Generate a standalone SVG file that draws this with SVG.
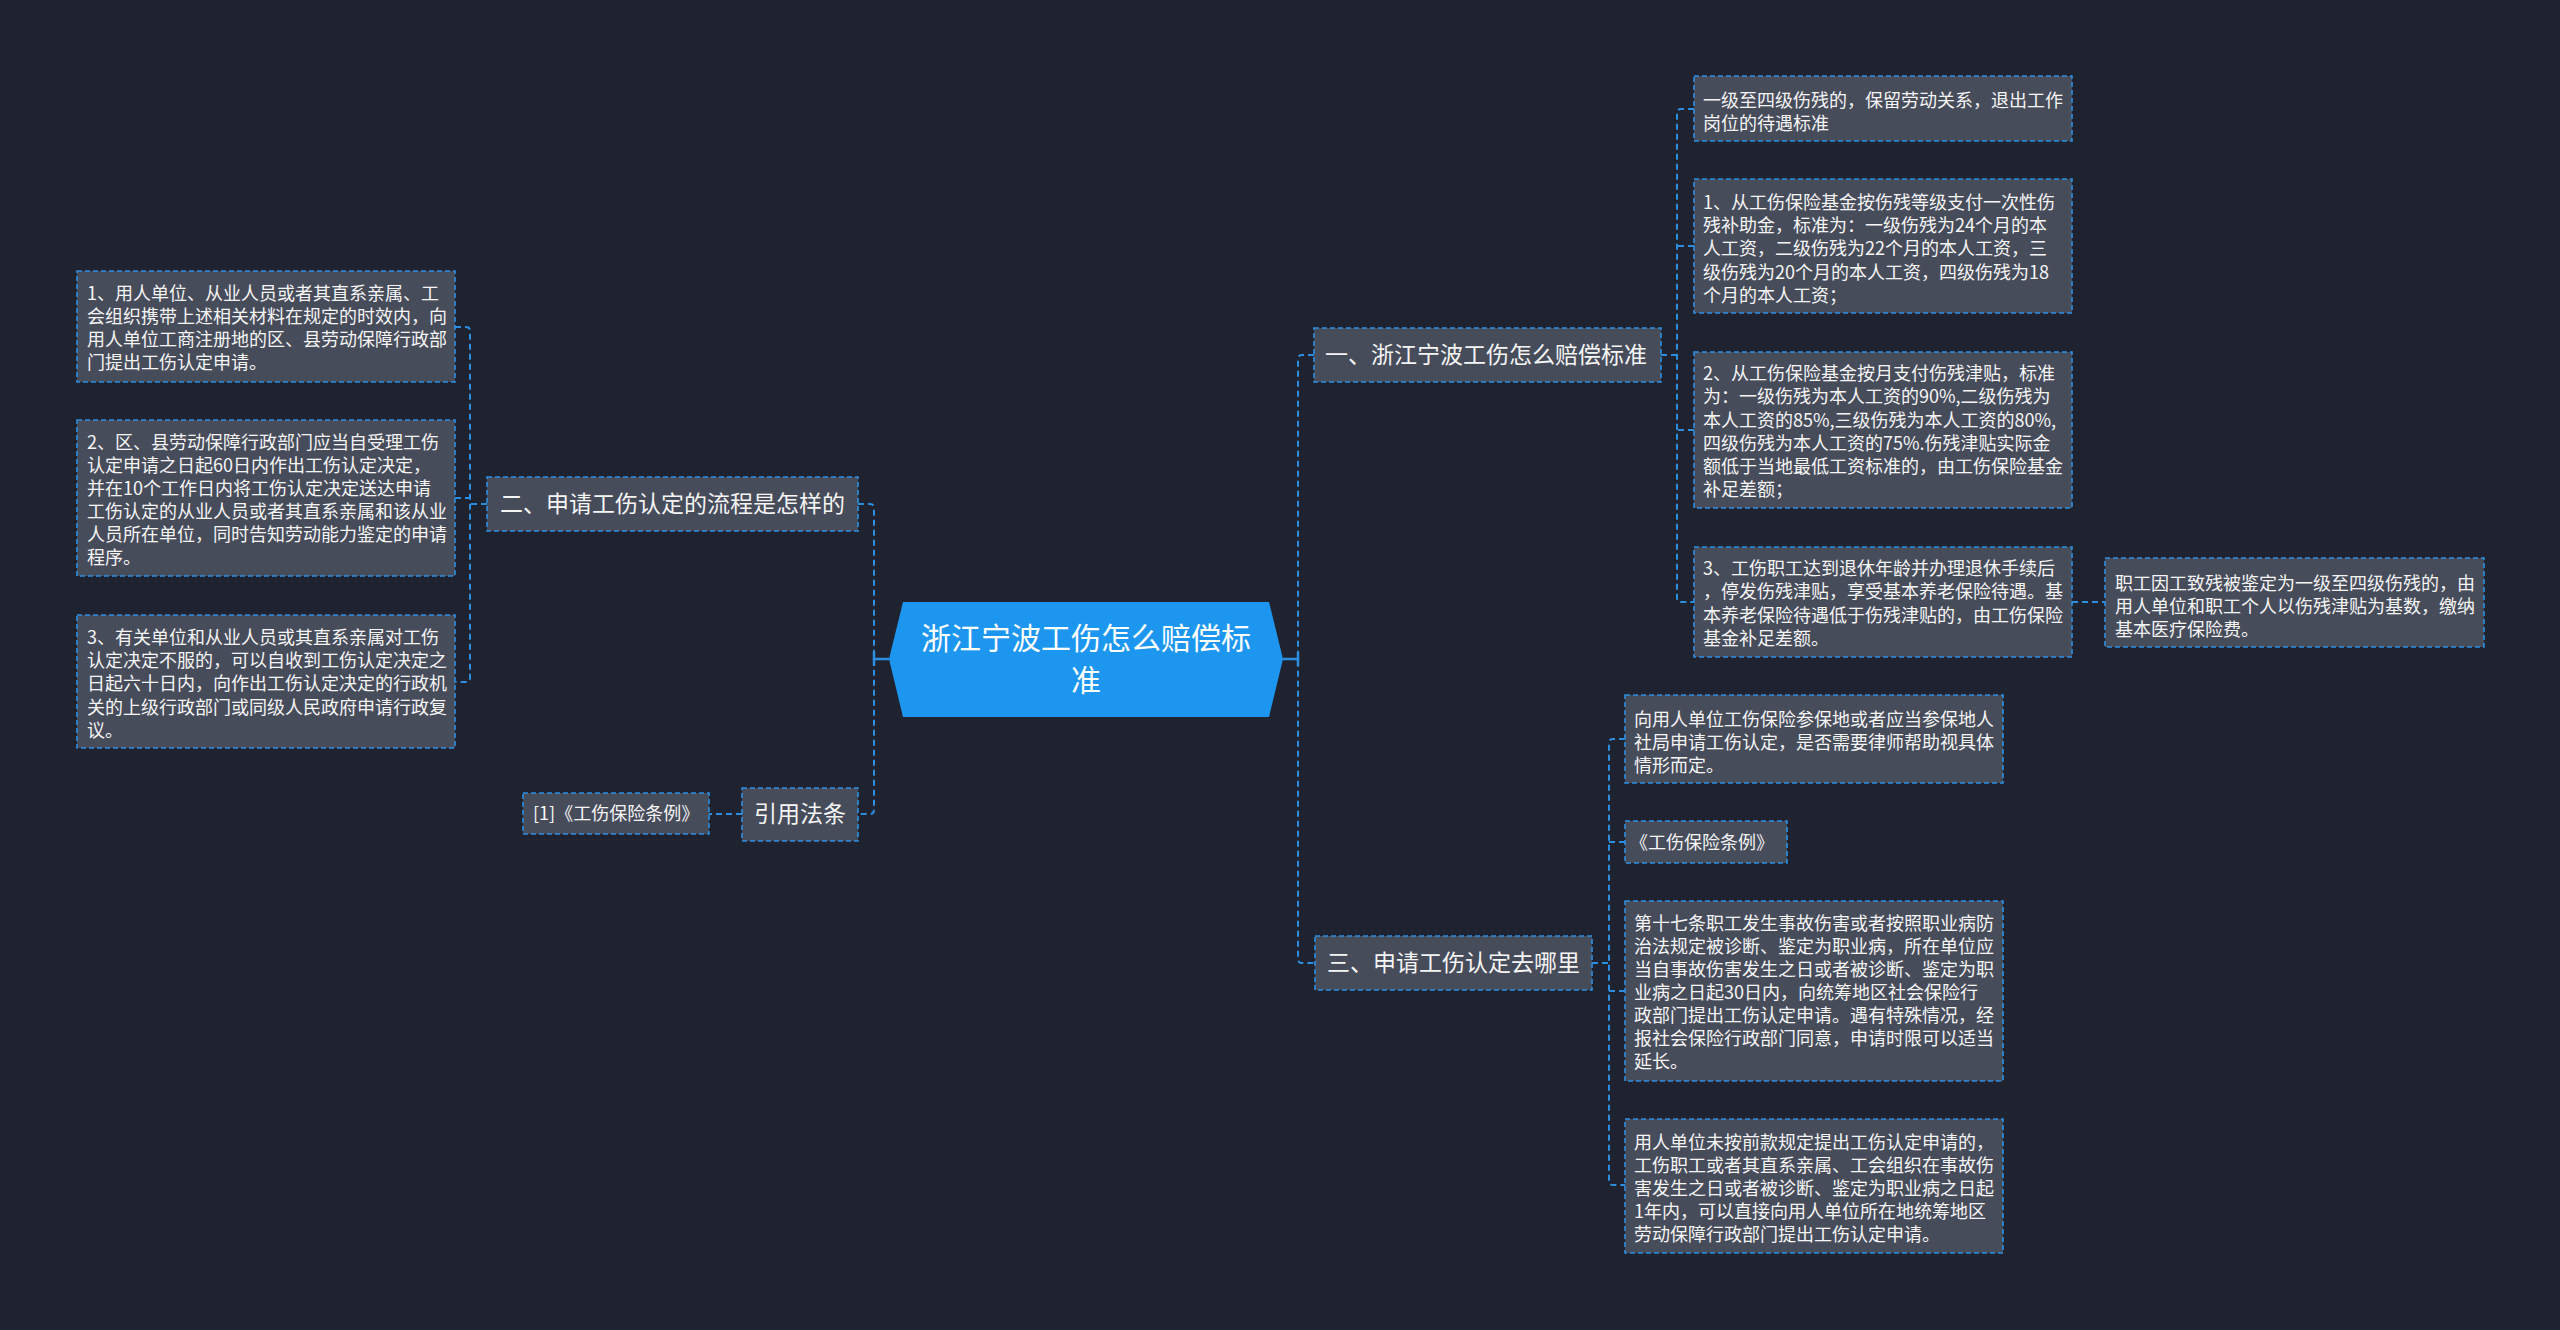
<svg xmlns="http://www.w3.org/2000/svg" width="2560" height="1330" viewBox="0 0 2560 1330">
<style>
.bg{fill:#1f2330}
.n{fill:#474c5b;stroke:#2c8ee0;stroke-width:1.6;stroke-dasharray:5 3}
.c{fill:none;stroke:#2c8ee0;stroke-width:2;stroke-dasharray:6 4}
.s{fill:none;stroke:#2c8ee0;stroke-width:2.5}
text{font-family:"Microsoft YaHei","Noto Sans CJK SC","Noto Sans",sans-serif;fill:#f5f5f5}
.t18{font-size:18px}
.t23{font-size:23px}
.t30{font-size:30px;fill:#ffffff}
</style>
<rect class="bg" x="0" y="0" width="2560" height="1330"/>
<g id="connectors">
<path class="s" d="M889 659 H874 M874 652 V666"/>
<path class="c" d="M858 504 H870 Q874 504 874 508 V810 Q874 814 870 814 H858"/>
<path class="c" d="M742 814 H709"/>
<path class="c" d="M487 504 H470"/>
<path class="c" d="M455 327 H466 Q470 327 470 331 V678 Q470 682 466 682 H455"/>
<path class="c" d="M455 498 H470"/>
<path class="s" d="M1283 659 H1298 M1298 652 V666"/>
<path class="c" d="M1314 355 H1302 Q1298 355 1298 359 V959 Q1298 963 1302 963 H1315"/>
<path class="c" d="M1661 355 H1677"/>
<path class="c" d="M1694 109 H1681 Q1677 109 1677 113 V598 Q1677 602 1681 602 H1694"/>
<path class="c" d="M1694 246 H1677"/>
<path class="c" d="M1694 430 H1677"/>
<path class="c" d="M2072 602 H2105"/>
<path class="c" d="M1592 963 H1609"/>
<path class="c" d="M1625 739 H1613 Q1609 739 1609 743 V1181 Q1609 1185 1613 1185 H1625"/>
<path class="c" d="M1625 842 H1609"/>
<path class="c" d="M1625 991 H1609"/>
</g>
<g id="root">
<polygon points="903,602 1269,602 1283,659 1269,717 903,717 889,659" fill="#1d96f0"/>
<text class="t30" x="1086" y="649" text-anchor="middle">浙江宁波工伤怎么赔偿标</text>
<text class="t30" x="1086" y="691" text-anchor="middle">准</text>
</g>
<g id="n2">
<rect class="n" x="487" y="477" width="371" height="54"/>
<text class="t23" x="500" y="512">二、申请工伤认定的流程是怎样的</text>
</g>
<g id="n2-1">
<rect class="n" x="77" y="271" width="378" height="111"/>
<text class="t18" x="87"><tspan x="87" y="300">1、用人单位、从业人员或者其直系亲属、工</tspan><tspan x="87" y="323">会组织携带上述相关材料在规定的时效内，向</tspan><tspan x="87" y="346">用人单位工商注册地的区、县劳动保障行政部</tspan><tspan x="87" y="369">门提出工伤认定申请。</tspan></text>
</g>
<g id="n2-2">
<rect class="n" x="77" y="420" width="378" height="156"/>
<text class="t18"><tspan x="87" y="449">2、区、县劳动保障行政部门应当自受理工伤</tspan><tspan x="87" y="472">认定申请之日起60日内作出工伤认定决定，</tspan><tspan x="87" y="495">并在10个工作日内将工伤认定决定送达申请</tspan><tspan x="87" y="518">工伤认定的从业人员或者其直系亲属和该从业</tspan><tspan x="87" y="541">人员所在单位，同时告知劳动能力鉴定的申请</tspan><tspan x="87" y="564">程序。</tspan></text>
</g>
<g id="n2-3">
<rect class="n" x="77" y="615" width="378" height="133"/>
<text class="t18"><tspan x="87" y="644">3、有关单位和从业人员或其直系亲属对工伤</tspan><tspan x="87" y="667">认定决定不服的，可以自收到工伤认定决定之</tspan><tspan x="87" y="690">日起六十日内，向作出工伤认定决定的行政机</tspan><tspan x="87" y="714">关的上级行政部门或同级人民政府申请行政复</tspan><tspan x="87" y="737">议。</tspan></text>
</g>
<g id="n4">
<rect class="n" x="742" y="788" width="116" height="53"/>
<text class="t23" x="754" y="822">引用法条</text>
</g>
<g id="n4-1">
<rect class="n" x="523" y="793" width="186" height="41"/>
<text class="t18" x="533" y="820">[1]《工伤保险条例》</text>
</g>
<g id="n1">
<rect class="n" x="1314" y="328" width="347" height="54"/>
<text class="t23" x="1325" y="363">一、浙江宁波工伤怎么赔偿标准</text>
</g>
<g id="n1-1">
<rect class="n" x="1694" y="76" width="378" height="65"/>
<text class="t18"><tspan x="1703" y="107">一级至四级伤残的，保留劳动关系，退出工作</tspan><tspan x="1703" y="130">岗位的待遇标准</tspan></text>
</g>
<g id="n1-2">
<rect class="n" x="1694" y="179" width="378" height="134"/>
<text class="t18"><tspan x="1703" y="209">1、从工伤保险基金按伤残等级支付一次性伤</tspan><tspan x="1703" y="232">残补助金，标准为：一级伤残为24个月的本</tspan><tspan x="1703" y="255">人工资，二级伤残为22个月的本人工资，三</tspan><tspan x="1703" y="279">级伤残为20个月的本人工资，四级伤残为18</tspan><tspan x="1703" y="302">个月的本人工资；</tspan></text>
</g>
<g id="n1-3">
<rect class="n" x="1694" y="352" width="378" height="156"/>
<text class="t18"><tspan x="1703" y="380">2、从工伤保险基金按月支付伤残津贴，标准</tspan><tspan x="1703" y="403">为：一级伤残为本人工资的90%,二级伤残为</tspan><tspan x="1703" y="427">本人工资的85%,三级伤残为本人工资的80%,</tspan><tspan x="1703" y="450">四级伤残为本人工资的75%.伤残津贴实际金</tspan><tspan x="1703" y="473">额低于当地最低工资标准的，由工伤保险基金</tspan><tspan x="1703" y="496">补足差额；</tspan></text>
</g>
<g id="n1-4">
<rect class="n" x="1694" y="547" width="378" height="110"/>
<text class="t18"><tspan x="1703" y="575">3、工伤职工达到退休年龄并办理退休手续后</tspan><tspan x="1703" y="598">，停发伤残津贴，享受基本养老保险待遇。基</tspan><tspan x="1703" y="622">本养老保险待遇低于伤残津贴的，由工伤保险</tspan><tspan x="1703" y="645">基金补足差额。</tspan></text>
</g>
<g id="n1-4-1">
<rect class="n" x="2105" y="558" width="379" height="89"/>
<text class="t18"><tspan x="2115" y="590">职工因工致残被鉴定为一级至四级伤残的，由</tspan><tspan x="2115" y="613">用人单位和职工个人以伤残津贴为基数，缴纳</tspan><tspan x="2115" y="636">基本医疗保险费。</tspan></text>
</g>
<g id="n3">
<rect class="n" x="1315" y="936" width="277" height="54"/>
<text class="t23" x="1327" y="971">三、申请工伤认定去哪里</text>
</g>
<g id="n3-1">
<rect class="n" x="1625" y="695" width="378" height="88"/>
<text class="t18"><tspan x="1634" y="726">向用人单位工伤保险参保地或者应当参保地人</tspan><tspan x="1634" y="749">社局申请工伤认定，是否需要律师帮助视具体</tspan><tspan x="1634" y="772">情形而定。</tspan></text>
</g>
<g id="n3-2">
<rect class="n" x="1625" y="821" width="162" height="42"/>
<text class="t18" x="1630" y="849">《工伤保险条例》</text>
</g>
<g id="n3-3">
<rect class="n" x="1625" y="901" width="378" height="180"/>
<text class="t18"><tspan x="1634" y="930">第十七条职工发生事故伤害或者按照职业病防</tspan><tspan x="1634" y="953">治法规定被诊断、鉴定为职业病，所在单位应</tspan><tspan x="1634" y="976">当自事故伤害发生之日或者被诊断、鉴定为职</tspan><tspan x="1634" y="999">业病之日起30日内，向统筹地区社会保险行</tspan><tspan x="1634" y="1022">政部门提出工伤认定申请。遇有特殊情况，经</tspan><tspan x="1634" y="1045">报社会保险行政部门同意，申请时限可以适当</tspan><tspan x="1634" y="1068">延长。</tspan></text>
</g>
<g id="n3-4">
<rect class="n" x="1625" y="1119" width="378" height="134"/>
<text class="t18"><tspan x="1634" y="1149">用人单位未按前款规定提出工伤认定申请的，</tspan><tspan x="1634" y="1172">工伤职工或者其直系亲属、工会组织在事故伤</tspan><tspan x="1634" y="1195">害发生之日或者被诊断、鉴定为职业病之日起</tspan><tspan x="1634" y="1218">1年内，可以直接向用人单位所在地统筹地区</tspan><tspan x="1634" y="1241">劳动保障行政部门提出工伤认定申请。</tspan></text>
</g>
</svg>
